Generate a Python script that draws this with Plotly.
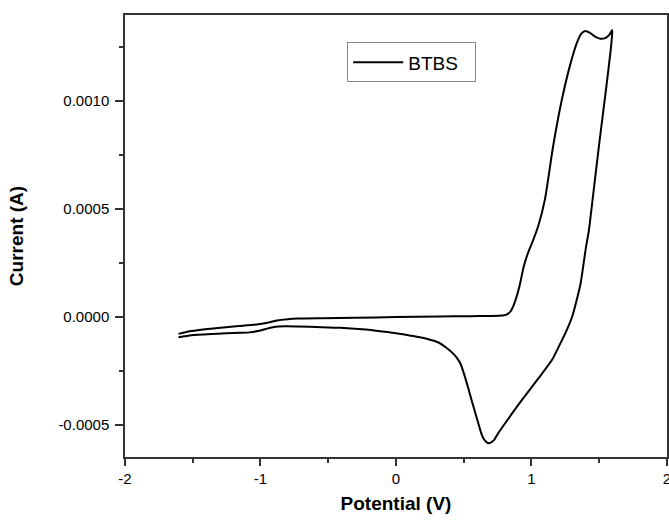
import plotly.graph_objects as go

# Forward (anodic) scan: potential in V, current in A
potential_forward = [-1.605, -1.51, -1.35, -1.16, -1.03, -0.95, -0.88, -0.80, -0.72, -0.55,
                     -0.30, 0.0, 0.32, 0.55, 0.70, 0.785, 0.82, 0.847, 0.865, 0.884,
                     0.912, 0.943, 0.975, 1.005, 1.05, 1.10, 1.16, 1.225, 1.29, 1.335,
                     1.37, 1.40, 1.43, 1.47, 1.51, 1.545, 1.575, 1.597]
current_forward = [-7.9e-5, -6.6e-5, -5.4e-5, -4.3e-5, -3.5e-5, -2.7e-5, -1.7e-5, -1.1e-5, -8e-6, -6e-6,
                   -4e-6, -1e-6, 2e-6, 3e-6, 4e-6, 6e-6, 1.2e-5, 2.6e-5, 4.8e-5, 8.0e-5,
                   1.42e-4, 2.32e-4, 2.97e-4, 3.43e-4, 4.20e-4, 5.45e-4, 7.90e-4, 1.008e-3, 1.178e-3, 1.270e-3,
                   1.315e-3, 1.326e-3, 1.318e-3, 1.300e-3, 1.290e-3, 1.293e-3, 1.308e-3, 1.330e-3]

# Reverse (cathodic) scan
potential_reverse = [1.597, 1.592, 1.585, 1.55, 1.50, 1.45, 1.425, 1.40, 1.364, 1.339,
                     1.302, 1.255, 1.204, 1.154, 1.056, 0.933, 0.810, 0.755, 0.724, 0.700,
                     0.687, 0.668, 0.650, 0.630, 0.614, 0.590, 0.564, 0.540, 0.515, 0.479,
                     0.450, 0.417, 0.370, 0.318, 0.22, 0.10, 0.024, -0.10, -0.25, -0.41,
                     -0.55, -0.72, -0.82, -0.90, -0.96, -1.02, -1.08, -1.15, -1.35, -1.51,
                     -1.605]
current_reverse = [1.330e-3, 1.280e-3, 1.236e-3, 1.050e-3, 8.00e-4, 5.35e-4, 4.04e-4, 3.11e-4, 1.57e-4, 9.0e-5,
                   3e-6, -7.0e-5, -1.36e-4, -1.98e-4, -2.82e-4, -3.83e-4, -4.90e-4, -5.40e-4, -5.72e-4, -5.83e-4,
                   -5.86e-4, -5.81e-4, -5.68e-4, -5.40e-4, -5.06e-4, -4.55e-4, -3.98e-4, -3.45e-4, -2.90e-4, -2.21e-4,
                   -1.90e-4, -1.67e-4, -1.42e-4, -1.20e-4, -1.00e-4, -8.6e-5, -7.8e-5, -6.8e-5, -5.8e-5, -5.1e-5,
                   -4.8e-5, -4.5e-5, -4.4e-5, -4.7e-5, -5.6e-5, -6.6e-5, -7.2e-5, -7.4e-5, -7.9e-5, -8.5e-5,
                   -9.5e-5]

series_name = "BTBS"
x_ticks = [-2, -1, 0, 1, 2]
y_ticks = [-0.0005, 0.0, 0.0005, 0.0010]

x_all = potential_forward + potential_reverse[1:]
y_all = current_forward + current_reverse[1:]

font_family = "Liberation Sans, Arial, sans-serif"
frame = "#333333"

fig = go.Figure()
fig.add_trace(go.Scatter(
    x=x_all, y=y_all, mode="lines", name=series_name,
    line=dict(color="black", width=2, shape="spline", smoothing=0.6),
    showlegend=True,
))

fig.update_layout(
    width=669, height=521,
    margin=dict(l=125, r=2, t=15, b=64),
    paper_bgcolor="white", plot_bgcolor="white",
    font=dict(family=font_family, size=15, color="black"),
    showlegend=True,
    legend=dict(x=0.41, y=0.938, xanchor="left", yanchor="top",
                orientation="h", entrywidth=62, entrywidthmode="pixels",
                bordercolor="#888888", borderwidth=1, bgcolor="white",
                font=dict(size=19, color="black"), itemwidth=50),
)

fig.update_xaxes(
    range=[-2, 2.001], tickvals=x_ticks, ticktext=[str(v) for v in x_ticks],
    automargin=False, ticklabeloverflow="allow",
    showgrid=False, zeroline=False,
    showline=True, linecolor=frame, linewidth=1.5, mirror=True,
    ticks="outside", ticklen=7, tickwidth=1.5, tickcolor=frame,
    minor=dict(dtick=0.5, tick0=0, ticks="outside", ticklen=4, tickwidth=1.5, tickcolor=frame),
    tickfont=dict(size=15),
    title=dict(text="<b>Potential (V)</b>", font=dict(size=19), standoff=11),
)
fig.update_yaxes(
    range=[-0.00065, 0.0014], tickvals=y_ticks, ticktext=["%.4f" % v for v in y_ticks],
    automargin=False,
    showgrid=False, zeroline=False,
    showline=True, linecolor=frame, linewidth=1.5, mirror=True,
    ticks="outside", ticklen=8, tickwidth=1.5, tickcolor=frame,
    ticklabelstandoff=3,
    minor=dict(dtick=0.00025, tick0=0, ticks="outside", ticklen=4, tickwidth=1.5, tickcolor=frame),
    tickfont=dict(size=15),
    title=dict(text="<b>Current (A)</b>", font=dict(size=19), standoff=30),
)

fig.write_html(
    "out.html",
    config={"displayModeBar": False},
    post_script="document.body.style.margin='0';document.body.style.overflow='hidden';",
)
